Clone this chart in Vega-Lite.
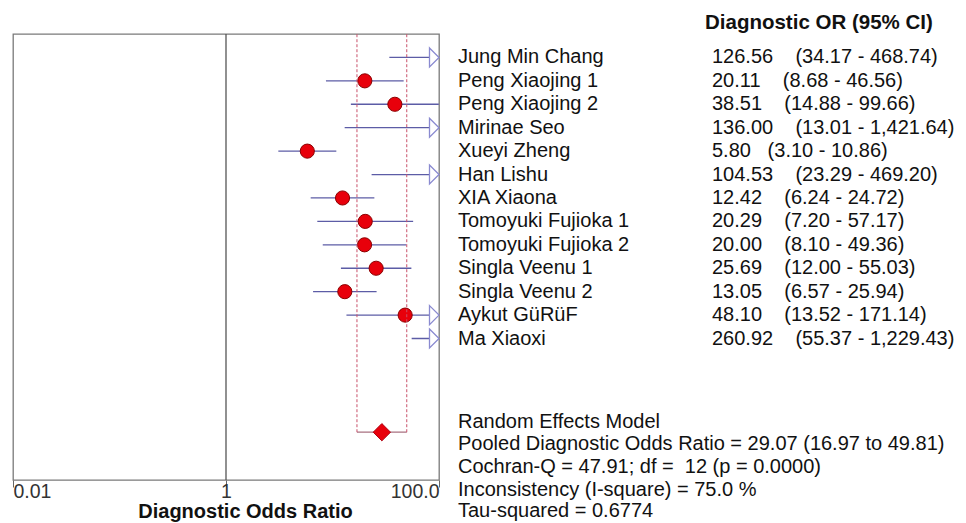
{
  "$schema": "https://vega.github.io/schema/vega-lite/v6.json",
  "background": "white",
  "padding": {"left": 11, "top": 13, "right": 0, "bottom": 0},
  "autosize": {"type": "pad"},
  "bounds": "flush",
  "spacing": 0,
  "config": {"view": {"stroke": null}, "font": "Liberation Sans"},
  "datasets": {
    "studies": [
      {"row": 1, "name": "Jung Min Chang", "est": 126.56, "lo": 34.17, "hi": 468.74, "label": "126.56\u00a0\u00a0\u00a0\u00a0(34.17 - 468.74)"},
      {"row": 2, "name": "Peng Xiaojing 1", "est": 20.11, "lo": 8.68, "hi": 46.56, "label": "20.11\u00a0\u00a0\u00a0\u00a0(8.68 - 46.56)"},
      {"row": 3, "name": "Peng Xiaojing 2", "est": 38.51, "lo": 14.88, "hi": 99.66, "label": "38.51\u00a0\u00a0\u00a0\u00a0(14.88 - 99.66)"},
      {"row": 4, "name": "Mirinae Seo", "est": 136.0, "lo": 13.01, "hi": 1421.64, "label": "136.00\u00a0\u00a0\u00a0\u00a0(13.01 - 1,421.64)"},
      {"row": 5, "name": "Xueyi Zheng", "est": 5.8, "lo": 3.1, "hi": 10.86, "label": "5.80\u00a0\u00a0\u00a0(3.10 - 10.86)"},
      {"row": 6, "name": "Han Lishu", "est": 104.53, "lo": 23.29, "hi": 469.2, "label": "104.53\u00a0\u00a0\u00a0\u00a0(23.29 - 469.20)"},
      {"row": 7, "name": "XIA Xiaona", "est": 12.42, "lo": 6.24, "hi": 24.72, "label": "12.42\u00a0\u00a0\u00a0\u00a0(6.24 - 24.72)"},
      {"row": 8, "name": "Tomoyuki Fujioka 1", "est": 20.29, "lo": 7.2, "hi": 57.17, "label": "20.29\u00a0\u00a0\u00a0\u00a0(7.20 - 57.17)"},
      {"row": 9, "name": "Tomoyuki Fujioka 2", "est": 20.0, "lo": 8.1, "hi": 49.36, "label": "20.00\u00a0\u00a0\u00a0\u00a0(8.10 - 49.36)"},
      {"row": 10, "name": "Singla Veenu 1", "est": 25.69, "lo": 12.0, "hi": 55.03, "label": "25.69\u00a0\u00a0\u00a0\u00a0(12.00 - 55.03)"},
      {"row": 11, "name": "Singla Veenu 2", "est": 13.05, "lo": 6.57, "hi": 25.94, "label": "13.05\u00a0\u00a0\u00a0\u00a0(6.57 - 25.94)"},
      {"row": 12, "name": "Aykut GüRüF", "est": 48.1, "lo": 13.52, "hi": 171.14, "label": "48.10\u00a0\u00a0\u00a0\u00a0(13.52 - 171.14)"},
      {"row": 13, "name": "Ma Xiaoxi", "est": 260.92, "lo": 55.37, "hi": 1229.43, "label": "260.92\u00a0\u00a0\u00a0\u00a0(55.37 - 1,229.43)"}
    ],
    "pooled": [
      {"row": 17, "est": 29.07, "lo": 16.97, "hi": 49.81}
    ],
    "stats": [
      {"row": 16.55, "txt": "Random Effects Model"},
      {"row": 17.5, "txt": "Pooled Diagnostic Odds Ratio = 29.07 (16.97 to 49.81)"},
      {"row": 18.5, "txt": "Cochran-Q = 47.91; df =\u00a0\u00a012 (p = 0.0000)"},
      {"row": 19.45, "txt": "Inconsistency (I-square) = 75.0 %"},
      {"row": 20.35, "txt": "Tau-squared = 0.6774"}
    ],
    "header": [{"txt": "Diagnostic OR (95% CI)"}]
  },
  "hconcat": [
    {
      "width": 426,
      "height": 446,
      "view": {"stroke": "#7a7a7a", "strokeWidth": 1.3},
      "layer": [
        {
          "data": {"name": "pooled"},
          "mark": {"type": "rule", "color": "#555555", "strokeWidth": 1.3},
          "encoding": {
            "x": {
              "datum": 1,
              "type": "quantitative",
              "scale": {"type": "log", "domain": [0.01, 100], "nice": false},
              "axis": {
                "values": [0.01, 1, 100],
                "labelExpr": "datum.value >= 99 ? '100.0' : datum.value >= 0.99 ? '1' : '0.01'",
                "title": "Diagnostic Odds Ratio",
                "titleFontWeight": "bold",
                "titleFontSize": 20,
                "titleColor": "#111111",
                "titleX": 232,
                "titlePadding": 1,
                "labelFontSize": 19.5,
                "labelColor": "#333333",
                "labelFlush": true,
                "labelPadding": -5,
                "tickColor": "#666666",
                "tickSize": 7,
                "domain": false,
                "grid": false
              }
            }
          }
        },
        {
          "data": {"name": "studies"},
          "mark": {"type": "rule", "color": "#5c5ca6", "strokeWidth": 1.3, "clip": true},
          "encoding": {
            "x": {"field": "lo", "type": "quantitative", "scale": {"type": "log", "domain": [0.01, 100], "nice": false}},
            "x2": {"field": "hi"},
            "y": {"field": "row", "type": "quantitative", "scale": {"domain": [0, 19.04], "reverse": true, "nice": false, "zero": false}, "axis": null}
          }
        },
        {
          "data": {"name": "studies"},
          "transform": [{"filter": "datum.est < 100"}],
          "mark": {"type": "point", "shape": "circle", "filled": true, "size": 200, "fill": "#e8000b", "stroke": "#8b0000", "strokeWidth": 1, "opacity": 1},
          "encoding": {
            "x": {"field": "est", "type": "quantitative", "scale": {"type": "log", "domain": [0.01, 100], "nice": false}},
            "y": {"field": "row", "type": "quantitative", "scale": {"domain": [0, 19.04], "reverse": true, "nice": false, "zero": false}, "axis": null}
          }
        },
        {
          "data": {"name": "studies"},
          "transform": [{"filter": "datum.hi > 100"}],
          "mark": {"type": "point", "shape": "M-1,-1L0,0L-1,1Z", "size": 361, "filled": true, "fill": "white", "stroke": "#8a8ad0", "strokeWidth": 1.3, "opacity": 1},
          "encoding": {
            "x": {"datum": 100, "type": "quantitative", "scale": {"type": "log", "domain": [0.01, 100], "nice": false}},
            "y": {"field": "row", "type": "quantitative", "scale": {"domain": [0, 19.04], "reverse": true, "nice": false, "zero": false}, "axis": null}
          }
        },
        {
          "data": {"name": "pooled"},
          "mark": {"type": "rule", "color": "#a87080", "strokeWidth": 1.3},
          "encoding": {
            "x": {"field": "lo", "type": "quantitative", "scale": {"type": "log", "domain": [0.01, 100], "nice": false}},
            "x2": {"field": "hi"},
            "y": {"field": "row", "type": "quantitative", "scale": {"domain": [0, 19.04], "reverse": true, "nice": false, "zero": false}, "axis": null}
          }
        },
        {
          "data": {"name": "pooled"},
          "transform": [{"fold": ["lo", "hi"], "as": ["bound", "value"]}],
          "mark": {"type": "rule", "color": "#c8506a", "strokeWidth": 1, "strokeDash": [3, 2]},
          "encoding": {
            "x": {"field": "value", "type": "quantitative", "scale": {"type": "log", "domain": [0.01, 100], "nice": false}},
            "y": {"field": "row", "type": "quantitative", "scale": {"domain": [0, 19.04], "reverse": true, "nice": false, "zero": false}, "axis": null},
            "y2": {"datum": 0}
          }
        },
        {
          "data": {"name": "pooled"},
          "mark": {"type": "point", "shape": "diamond", "filled": true, "size": 300, "fill": "#e8000b", "stroke": "#b00010", "strokeWidth": 1, "opacity": 1},
          "encoding": {
            "x": {"field": "est", "type": "quantitative", "scale": {"type": "log", "domain": [0.01, 100], "nice": false}},
            "y": {"field": "row", "type": "quantitative", "scale": {"domain": [0, 19.04], "reverse": true, "nice": false, "zero": false}, "axis": null}
          }
        }
      ]
    },
    {
      "width": 529,
      "height": 446,
      "layer": [
        {
          "data": {"name": "studies"},
          "transform": [{"fold": ["name", "label"], "as": ["col", "txt"]}],
          "mark": {"type": "text", "align": "left", "baseline": "middle", "fontSize": 20, "color": "#111111", "clip": true},
          "encoding": {
            "x": {"field": "col", "type": "nominal", "scale": {"type": "point", "domain": ["name", "label"], "range": [19, 273], "padding": 0}, "axis": null},
            "y": {"field": "row", "type": "quantitative", "scale": {"domain": [0, 19.04], "reverse": true, "nice": false, "zero": false}, "axis": null},
            "text": {"field": "txt"}
          }
        },
        {
          "data": {"name": "header"},
          "mark": {"type": "text", "align": "left", "baseline": "middle", "fontSize": 20.5, "fontWeight": "bold", "color": "#111111", "dx": -7},
          "encoding": {
            "x": {"datum": "label", "type": "nominal", "scale": {"type": "point", "domain": ["name", "label"], "range": [19, 273], "padding": 0}, "axis": null},
            "y": {"datum": -0.45, "type": "quantitative", "scale": {"domain": [0, 19.04], "reverse": true, "nice": false, "zero": false}, "axis": null},
            "text": {"field": "txt"}
          }
        },
        {
          "data": {"name": "stats"},
          "mark": {"type": "text", "align": "left", "baseline": "middle", "fontSize": 20, "color": "#111111"},
          "encoding": {
            "x": {"datum": "name", "type": "nominal", "scale": {"type": "point", "domain": ["name", "label"], "range": [19, 273], "padding": 0}, "axis": null},
            "y": {"field": "row", "type": "quantitative", "scale": {"domain": [0, 19.04], "reverse": true, "nice": false, "zero": false}, "axis": null},
            "text": {"field": "txt"}
          }
        }
      ]
    }
  ]
}
